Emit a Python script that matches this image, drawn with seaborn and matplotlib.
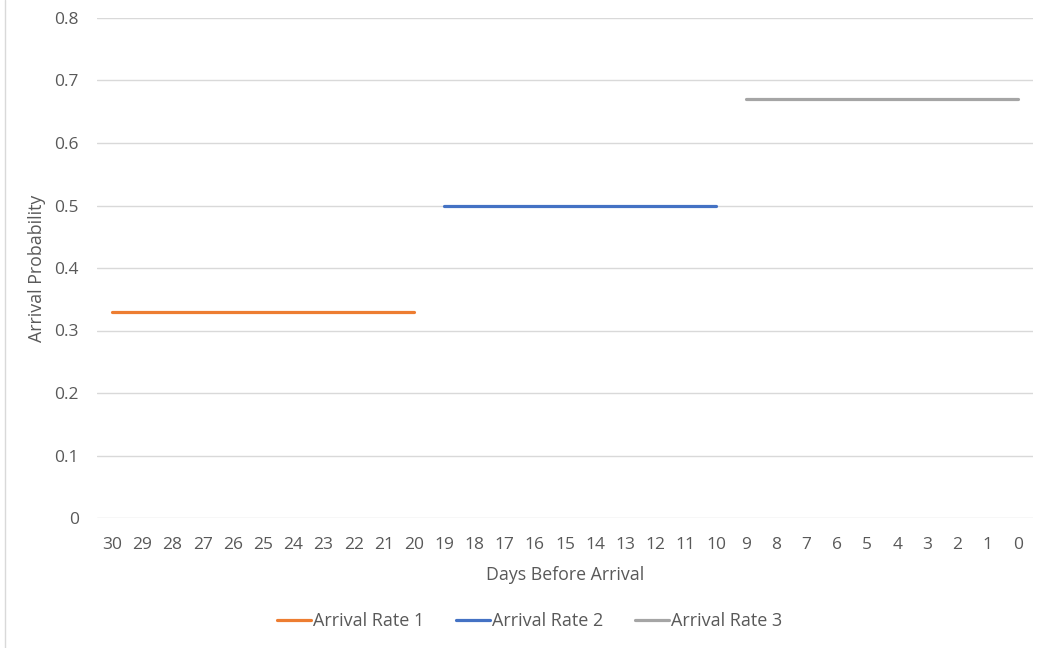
import numpy as np
import pandas as pd
import matplotlib
matplotlib.use("Agg")
import matplotlib.pyplot as plt
import seaborn as sns
from matplotlib.lines import Line2D

# Days before arrival and the arrival probability in each booking window
days = list(range(30, -1, -1))
rate1_days = list(range(30, 19, -1))
rate1_value = 0.33
rate2_days = list(range(19, 9, -1))
rate2_value = 0.5
rate3_days = list(range(9, -1, -1))
rate3_value = 0.67
series_names = ["Arrival Rate 1", "Arrival Rate 2", "Arrival Rate 3"]
colors = ["#ED7D31", "#4472C4", "#A5A5A5"]

frames = []
for name, d, v in zip(series_names,
                      [rate1_days, rate2_days, rate3_days],
                      [rate1_value, rate2_value, rate3_value]):
    frames.append(pd.DataFrame({"day": d, "prob": [v] * len(d), "series": name}))
df = pd.concat(frames, ignore_index=True)

sns.set_theme(style="white")
plt.rcParams["font.family"] = ["Open Sans", "DejaVu Sans"]
text_color = "#595959"

fig = plt.figure(figsize=(10.4, 6.48), dpi=100)
ax = fig.add_axes([97 / 1040, 1 - 518 / 648, (1033 - 97) / 1040, 500 / 648])

sns.lineplot(data=df, x="day", y="prob", hue="series", palette=colors,
             linewidth=2.3, ax=ax, legend=False, solid_capstyle="round")

ax.set_xlim(30.5, -0.5)
ax.set_ylim(0, 0.8)
ax.set_xticks(days)
ax.set_xticklabels([str(d) for d in days])
ax.set_yticks(np.arange(0, 0.81, 0.1))
ax.set_yticklabels(["0"] + [f"{t:.1f}" for t in np.arange(0.1, 0.81, 0.1)])
ax.yaxis.grid(True, color="#D9D9D9", linewidth=1.0)
ax.set_axisbelow(True)
for s in ax.spines.values():
    s.set_visible(False)
ax.tick_params(axis="both", length=0, labelsize=12.5, colors=text_color)
ax.tick_params(axis="x", pad=14)
ax.tick_params(axis="y", pad=13)

ax.set_xlabel("Days Before Arrival", fontsize=12.8, color=text_color, labelpad=9)
ax.set_ylabel("Arrival Probability", fontsize=12.8, color=text_color)
ax.yaxis.set_label_coords(-51 / 936, 0.5)

handles = [Line2D([0], [0], color=c, linewidth=2.3) for c in colors]
fig.legend(handles, series_names, loc="center", bbox_to_anchor=(530 / 1040, 1 - 621 / 648),
           ncol=3, frameon=False, fontsize=13, labelcolor=text_color,
           handlelength=1.85, handletextpad=0.15, columnspacing=1.75)

# thin frame line along the left edge
fig.add_artist(Line2D([4.5 / 1040, 4.5 / 1040], [0, 1], color="#D9D9D9", linewidth=1.0))

fig.savefig("out.png", dpi=100)
